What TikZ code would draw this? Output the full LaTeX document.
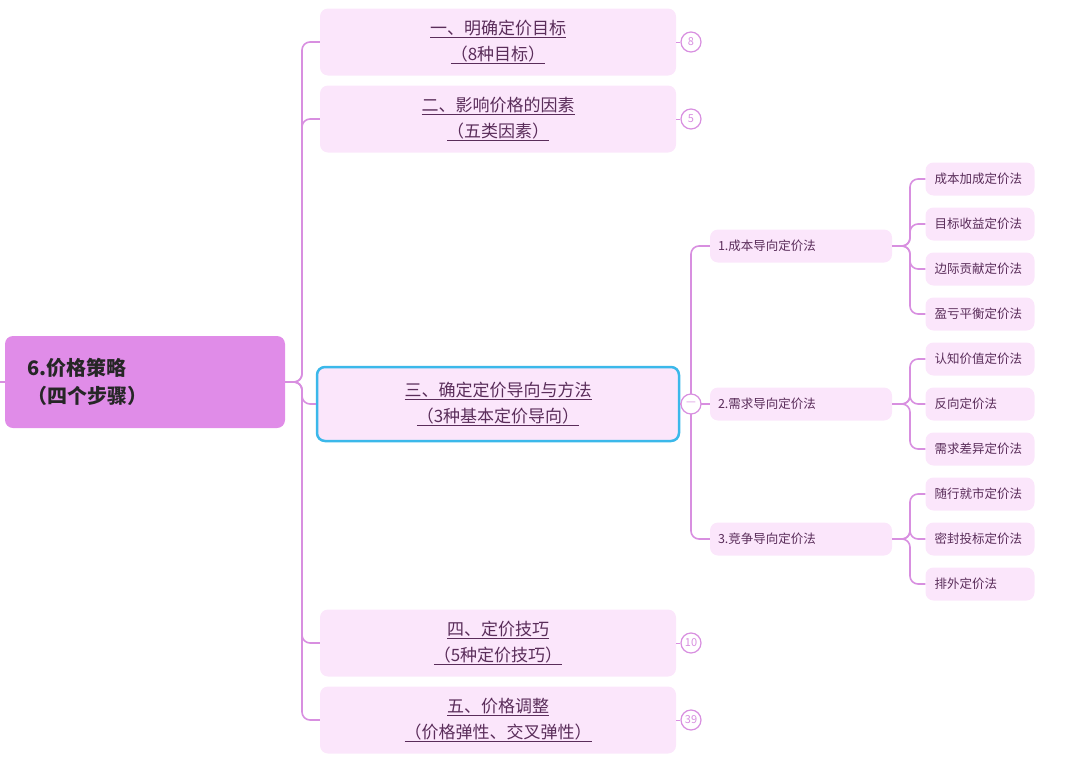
\documentclass[tikz,border=0pt]{standalone}
\usepackage{fontspec}
\setmainfont{Noto Sans CJK SC}
\newcommand\myul[1]{$\underline{\hbox{#1}}$}
\begin{document}
\begin{tikzpicture}[x=1pt,y=-1pt,
  conn/.style={draw=lineC,line width=1.6pt,rounded corners=8pt},
  lone/.style={fill=boxC,rounded corners=8pt,minimum width=356pt,minimum height=67pt,align=center,text=txtC,font=\fontsize{17}{26}\selectfont,inner sep=0pt},
  ltwo/.style={fill=boxC,rounded corners=8pt,minimum width=182pt,minimum height=33pt,text=txtC,font=\fontsize{12.5}{15}\selectfont,inner sep=0pt,text width=166pt,align=left},
  lthree/.style={fill=boxC,rounded corners=8pt,minimum width=109pt,minimum height=33pt,text=txtC,font=\fontsize{12.5}{15}\selectfont,inner sep=0pt,text width=91pt,align=left},
  cnt/.style={circle,draw=lineC,line width=1.2pt,fill=white,minimum size=20pt,inner sep=0pt,text=lineC,font=\fontsize{11}{12}\selectfont}]
\definecolor{lineC}{HTML}{D88FE0}
\definecolor{boxC}{HTML}{FBE6FB}
\definecolor{txtC}{HTML}{5A2D5A}
\definecolor{rootC}{HTML}{E08CE8}
\definecolor{selC}{HTML}{3BB8EA}
\useasboundingbox (0,0) rectangle (1080,774);
\node[fill=rootC,rounded corners=8pt,minimum width=280pt,minimum height=92pt,inner sep=0pt] (root) at (145,382) {};
\node[anchor=west,align=left,font=\bfseries\fontsize{20}{28}\selectfont,text=black!85] (roottxt) at (24,382) {6.价格策略\\（四个步骤）};
\coordinate (lstub) at (0,382);
\draw[lineC,line width=1.6pt] (lstub) -- (root.west);
\node[lone] (b1) at (498,42) {\myul{一、明确定价目标}\\\myul{（8种目标）}};
\node[lone] (b2) at (498,119) {\myul{二、影响价格的因素}\\\myul{（五类因素）}};
\node[lone,draw=selC,line width=2.5pt,minimum width=362pt,minimum height=74pt] (b3) at (498,404) {\myul{三、确定定价导向与方法}\\\myul{（3种基本定价导向）}};
\node[lone] (b4) at (498,643) {\myul{四、定价技巧}\\\myul{（5种定价技巧）}};
\node[lone] (b5) at (498,720) {\myul{五、价格调整}\\\myul{（价格弹性、交叉弹性）}};
\coordinate (t1) at (302,382);
\foreach \b in {b1,b2,b3,b4,b5}{\draw[conn] (root.east) -- (t1) |- (\b.west);}
\node[cnt] (cb1) at (691,42) {8};
\node[cnt] (cb2) at (691,119) {5};
\node[cnt] (cb4) at (691,643) {10};
\node[cnt] (cb5) at (691,720) {39};
\foreach \b in {b1,b2,b4,b5}{\draw[lineC,line width=1pt] (\b.east) -- (c\b.west);}
\node[ltwo] (m1) at (801,246) {1.成本导向定价法};
\node[ltwo] (m2) at (801,404) {2.需求导向定价法};
\node[ltwo] (m3) at (801,539) {3.竞争导向定价法};
\coordinate (t2) at (691,404);
\foreach \m in {m1,m2,m3}{\draw[conn] (t2) |- (\m.west);}
\draw[lineC,line width=1.6pt] (b3.east) -- (t2);
\node[cnt] (col) at (691,404) {—};
\foreach \i/\y/\t in {1/179/成本加成定价法,2/224/目标收益定价法,3/269/边际贡献定价法,4/314/盈亏平衡定价法}{
  \node[lthree] (l\i) at (980,\y) {\t};
  \draw[conn] (m1.east) -- (910,246) |- (l\i.west);}
\foreach \i/\y/\t in {5/359/认知价值定价法,6/404/反向定价法,7/449/需求差异定价法}{
  \node[lthree] (l\i) at (980,\y) {\t};
  \draw[conn] (m2.east) -- (910,404) |- (l\i.west);}
\foreach \i/\y/\t in {8/494/随行就市定价法,9/539/密封投标定价法,10/584/排外定价法}{
  \node[lthree] (l\i) at (980,\y) {\t};
  \draw[conn] (m3.east) -- (910,539) |- (l\i.west);}
\end{tikzpicture}
\end{document}
